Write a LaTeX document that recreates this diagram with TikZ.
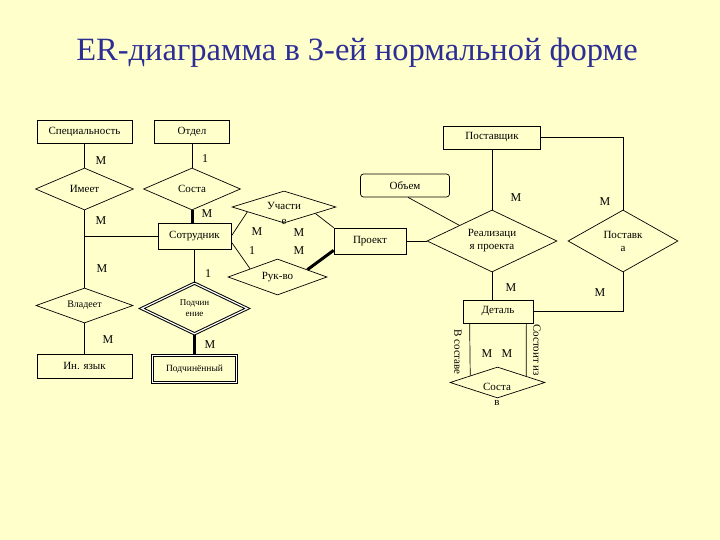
\documentclass[tikz,border=0pt]{standalone}
\usepackage{fontspec}
\setmainfont{Liberation Serif}
\usetikzlibrary{shapes.geometric,calc}
\definecolor{bgc}{RGB}{255,255,204}
\definecolor{titlec}{RGB}{45,45,150}
\begin{document}
\begin{tikzpicture}[x=1pt,y=-1pt, line width=0.7pt,
  ent/.style={draw, rectangle, minimum height=23pt, inner sep=0pt, font=\fontsize{11}{12}\selectfont},
  rel/.style={draw, diamond, inner sep=0pt, align=center, font=\fontsize{11}{13}\selectfont},
  lab/.style={inner sep=0pt, font=\fontsize{12}{12}\selectfont},
  thickline/.style={line width=3pt},
  vlab/.style={inner sep=0pt, rotate=-90, font=\fontsize{11}{12}\selectfont}]
\fill[bgc] (0,0) rectangle (720,540);
\useasboundingbox (0,0) rectangle (720,540);
\node[font=\fontsize{32.5}{36}\selectfont, text=titlec] (title) at (357,53) {ER-диаграмма в 3-ей нормальной форме};
% entities
\node[ent, minimum width=95pt] (spec) at (84.5,131.5) {Специальность};
\node[ent, minimum width=75pt] (otdel) at (192,131.5) {Отдел};
\node[ent, minimum width=97pt] (post) at (492,137.5) {Поставщик};
\node[ent, minimum width=73pt, minimum height=26pt] (sotr) at (194.5,236) {Сотрудник};
\node[ent, minimum width=72pt, minimum height=26pt] (proekt) at (370,241) {Проект};
\node[ent, minimum width=95pt, minimum height=24pt] (yaz) at (84.5,366) {Ин. язык};
\node[ent, minimum width=84pt, minimum height=27pt, double, double distance=1.3pt, line width=0.9pt, font=\fontsize{9.5}{11}\selectfont] (podch) at (194.5,369) {Подчинённый};
\node[ent, minimum width=70pt, minimum height=23pt] (det) at (498,311.5) {Деталь};
\node[ent, rounded corners=3pt, minimum width=89pt, minimum height=23pt] (obem) at (405,185.5) {Объем};
% relationships
\node[rel, minimum width=98pt, minimum height=42pt, shape aspect=2.3] (imeet) at (84.5,189) {Имеет};
\node[rel, minimum width=97pt, minimum height=42pt, shape aspect=2.3] (sosta) at (192,189) {Соста};
\node[rel, minimum width=97pt, minimum height=35pt, shape aspect=2.7, font=\fontsize{10}{12}\selectfont] (vlad) at (84.5,305.5) {Владеет};
\node[rel, minimum width=106pt, minimum height=51pt, shape aspect=2.05, double, double distance=1.2pt, line width=1pt, font=\fontsize{9}{11}\selectfont] (podchin) at (194.5,308.5) {Подчин\\ение};
\node[rel, minimum width=104pt, minimum height=32pt, shape aspect=3.2] (uch) at (284,207) {};
\node[lab, align=center, font=\fontsize{11}{15}\selectfont] (uchtxt) at (284,213) {Участи\\е};
\node[rel, minimum width=99pt, minimum height=36pt, shape aspect=2.7] (ruk) at (277.5,277) {Рук-во};
\node[rel, minimum width=130pt, minimum height=62pt, shape aspect=2.1] (real) at (492,241) {Реализаци\\я проекта};
\node[rel, minimum width=110pt, minimum height=62pt, shape aspect=1.8] (postavka) at (623,241) {Поставк\\а};
\node[rel, minimum width=95pt, minimum height=31pt, shape aspect=3] (sostav) at (497.5,382.5) {};
\node[lab, align=center, font=\fontsize{11}{15}\selectfont] (sostavtxt) at (497,394) {Соста\\в};
% connectors
\draw (spec.south) -- (imeet.north);
\draw (otdel.south) -- (sosta.north);
\draw (imeet.south) -- (vlad.north);
\draw (sotr.west) -- (sotr.west -| imeet.south);
\draw (vlad.south) -- (yaz.north);
\draw[thickline] (sosta.south) -- (sosta.south |- sotr.north);
\draw (sotr.south) -- (podchin.north);
\draw[thickline] (podchin.south) -- (podch.north);
\draw (sotr.east) -- ($(uch.west)!0.3!(uch.south)$);
\draw ([yshift=-6pt]sotr.east) -- ($(ruk.west)!0.45!(ruk.north)$);
\draw ($(uch.east)!0.4!(uch.south)$) -- (proekt.north west);
\draw[thickline] ($(ruk.east)!0.4!(ruk.north)$) -- ([yshift=4pt]proekt.south west);
\draw (proekt.east) -- (real.west);
\draw ([xshift=3pt]obem.south) -- ($(real.west)!0.5!(real.north)$);
\draw (post.south) -- (real.north);
\draw (post.east) -| (postavka.north);
\draw (real.south) -- (real.south |- det.north);
\draw (postavka.south) |- (det.east);
\draw ([xshift=7pt]det.south west) -- ($(sostav.west)!0.43!(sostav.north)$);
\draw ([xshift=-7pt]det.south east) -- ($(sostav.east)!0.4!(sostav.north)$);
% cardinality labels
\node[lab] (l1) at (101,161) {M};
\node[lab] (l2) at (205,159) {1};
\node[lab] (l3) at (101,221) {M};
\node[lab] (l4) at (207,214) {M};
\node[lab] (l5) at (102,269) {M};
\node[lab] (l6) at (208,274) {1};
\node[lab] (l7) at (108,340) {M};
\node[lab] (l8) at (210,345) {M};
\node[lab] (l9) at (257,232) {M};
\node[lab] (l10) at (252,251) {1};
\node[lab] (l11) at (299,233) {M};
\node[lab] (l12) at (299,251) {M};
\node[lab] (l13) at (516,198) {M};
\node[lab] (l14) at (605,202) {M};
\node[lab] (l15) at (511,288) {M};
\node[lab] (l16) at (600,293) {M};
\node[lab] (l17) at (487,354) {M};
\node[lab] (l18) at (507,354) {M};
\node[vlab] (v1) at (458,352) {В составе};
\node[vlab] (v2) at (537,350) {Состоит из};
\end{tikzpicture}
\end{document}
